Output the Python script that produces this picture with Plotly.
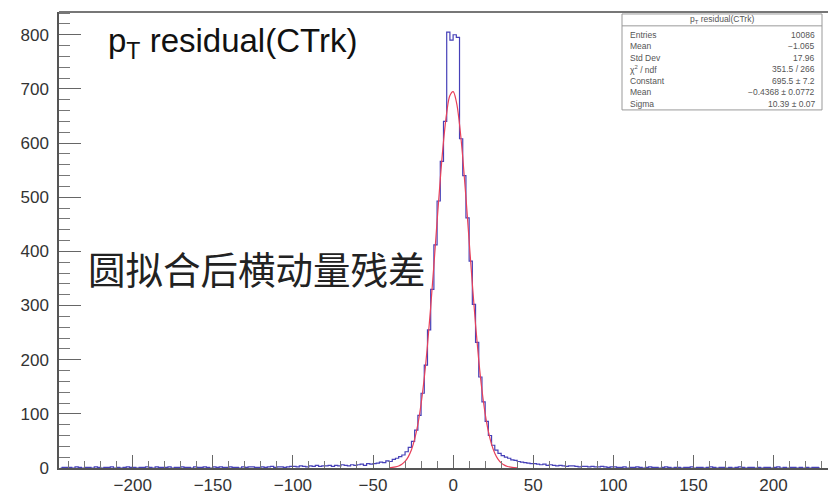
import numpy as np
import plotly.graph_objects as go

# Histogram of pT residual: 2-unit bins from -246 to 230
bin_lo, bin_hi, bin_w = -246, 230, 2
counts_left_tail = [0, 1, 1,
                    1, 0, 2, 1, 0, 1, 1, 0, 2, 1, 0, 1, 1, 2, 0, 1, 0, 1, 2, 1,
                    1, 0, 1, 1, 2, 1, 0, 2, 1, 1, 1, 2, 0, 1, 1, 2, 1, 1, 0, 2,
                    1, 1, 2, 1, 0, 2, 1, 2, 1, 1, 2, 1, 1, 0, 2, 1, 2, 2, 1, 1,
                    2, 1, 2, 3, 1, 2, 2, 1, 2, 3]
counts_left_shoulder = [3, 2, 4, 3, 2, 4, 3, 5, 3, 4, 4, 5, 3, 5, 4, 6, 5, 4, 6, 5,
                        6, 7, 5, 8, 7]
counts_left_rise = [8, 9, 11, 10, 13, 12, 16, 18, 21, 24]
counts_core = [30, 38, 49, 70, 97, 138, 190, 255, 330, 412, 493, 566, 640,
               805, 790, 800, 795,
               608, 540, 462, 382, 302, 232, 168, 122, 86, 60, 42, 33, 27]
counts_right_fall = [23, 20, 18, 15, 14, 12, 11, 10, 9, 8]
counts_right_shoulder = [8, 7, 6, 7, 5, 6, 5, 4, 5, 4, 3, 4, 4, 3, 2, 3, 3, 2, 3, 2,
                         2, 3, 2, 1, 2]
counts_right_tail = [2, 1, 1, 2, 0, 1, 1, 2, 1, 0, 1, 2, 1, 1, 0, 1, 2, 1, 0, 1,
                     1, 0, 1, 1, 2, 0, 1, 1, 0, 1, 2, 1, 0, 1, 1, 0, 1, 0, 1, 2,
                     1, 0, 1, 1, 0, 1, 0, 1, 1, 0, 1, 2, 0, 1, 0, 1, 1, 0, 1, 0,
                     1, 0, 1, 1, 0]

counts = (counts_left_tail + counts_left_shoulder + counts_left_rise + counts_core
          + counts_right_fall + counts_right_shoulder + counts_right_tail)
centers = np.arange(bin_lo + bin_w / 2, bin_hi, bin_w)

# Gaussian fit curve (Constant 695.5, Mean -0.4368, Sigma 10.39), sampled every 2 units
fit_x = list(range(-40, 41, 2))
fit_y = [0.49, 1.0, 2.0, 3.8, 6.9, 12.2, 20.6, 33.7, 53.2, 80.8, 118.2, 166.6,
         226.6, 297.0, 374.6, 455.4, 533.7, 602.7, 655.8, 687.7, 694.9, 676.6,
         634.8, 574.0, 500.0, 419.6, 339.6, 264.8, 198.8, 144.0, 100.5, 67.5,
         43.6, 27.3, 16.4, 9.5, 5.3, 2.86, 1.48, 0.74, 0.36]

# Statistics box contents
stat_names = ["Entries", "Mean", "Std Dev", "\u03c7<sup>2</sup> / ndf", "Constant", "Mean", "Sigma"]
stat_values = ["10086", "\u22121.065", "17.96", "351.5 / 266", "695.5 \u00b1 7.2",
               "\u22120.4368 \u00b1 0.0772", "10.39 \u00b1 0.07"]

W, H = 828, 495
ml, mr, mt, mb = 59, 0, 12, 22
pw, ph = W - ml - mr, H - mt - mb


def px(xp):
    return (xp - ml) / pw


def py(yp):
    return (H - mb - yp) / ph


fig = go.Figure()
fig.add_trace(go.Scatter(x=centers, y=counts, mode="lines", line_shape="hvh",
                         line=dict(color="#4640b8", width=1.2), hoverinfo="skip"))
fig.add_trace(go.Scatter(x=fit_x, y=fit_y, mode="lines", line_shape="spline",
                         line=dict(color="#e8405a", width=1.2), hoverinfo="skip"))

axis_font = dict(family="Liberation Sans, Arial, sans-serif", size=17, color="#333333")
fig.update_xaxes(range=[-246, 234], showgrid=False, zeroline=False,
                 showline=True, linecolor="#555555", linewidth=1.5,
                 ticks="inside", ticklen=13, tickcolor="#666666", tickwidth=1,
                 tick0=0, dtick=50, tickfont=axis_font, ticklabelstandoff=1,
                 minor=dict(ticks="inside", ticklen=7, dtick=10, tick0=0,
                            tickcolor="#777777", showgrid=False))
fig.update_yaxes(range=[0, 842], showgrid=False, zeroline=False,
                 showline=True, linecolor="#555555", linewidth=1.5,
                 ticks="inside", ticklen=22, tickcolor="#666666", tickwidth=1,
                 tick0=0, dtick=100, tickfont=axis_font, ticklabelstandoff=5,
                 minor=dict(ticks="inside", ticklen=11, dtick=20, tick0=0,
                            tickcolor="#777777", showgrid=False))

shapes = [
    # top edge of the frame
    dict(type="line", xref="paper", yref="paper", x0=0, x1=1, y0=1, y1=1,
         line=dict(color="#777777", width=2)),
    # statistics box
    dict(type="rect", xref="paper", yref="paper",
         x0=px(622), x1=px(822), y0=py(111), y1=py(14),
         line=dict(color="#999999", width=1), fillcolor="white"),
    dict(type="line", xref="paper", yref="paper",
         x0=px(622), x1=px(822), y0=py(26), y1=py(26),
         line=dict(color="#999999", width=1)),
]

stat_font = dict(family="Liberation Sans, Arial, sans-serif", size=8.5, color="#555555")
annotations = [
    dict(text="p<sub>T</sub> residual(CTrk)", xref="paper", yref="paper",
         x=px(106), y=py(43), xanchor="left", yanchor="middle", showarrow=False,
         font=dict(family="Liberation Sans, Arial, sans-serif", size=33, color="#111111")),
    dict(text="圆拟合后横动量残差", xref="paper", yref="paper",
         x=px(86), y=py(270), xanchor="left", yanchor="middle", showarrow=False,
         font=dict(family="Noto Sans CJK SC", size=37.5, color="#222222")),
    dict(text="p<sub>T</sub> residual(CTrk)", xref="paper", yref="paper",
         x=px(722), y=py(20), xanchor="center", yanchor="middle", showarrow=False,
         font=stat_font),
]
for i, (name, val) in enumerate(zip(stat_names, stat_values)):
    yy = py(35 + 11.6 * i)
    annotations.append(dict(text=name, xref="paper", yref="paper", x=px(628), y=yy,
                            xanchor="left", yanchor="middle", showarrow=False, font=stat_font))
    annotations.append(dict(text=val, xref="paper", yref="paper", x=px(817), y=yy,
                            xanchor="right", yanchor="middle", showarrow=False, font=stat_font))

fig.update_layout(width=W, height=H, margin=dict(l=ml, r=mr, t=mt, b=mb),
                  paper_bgcolor="white", plot_bgcolor="white", showlegend=False,
                  shapes=shapes, annotations=annotations)

fig.write_html("out.html")
